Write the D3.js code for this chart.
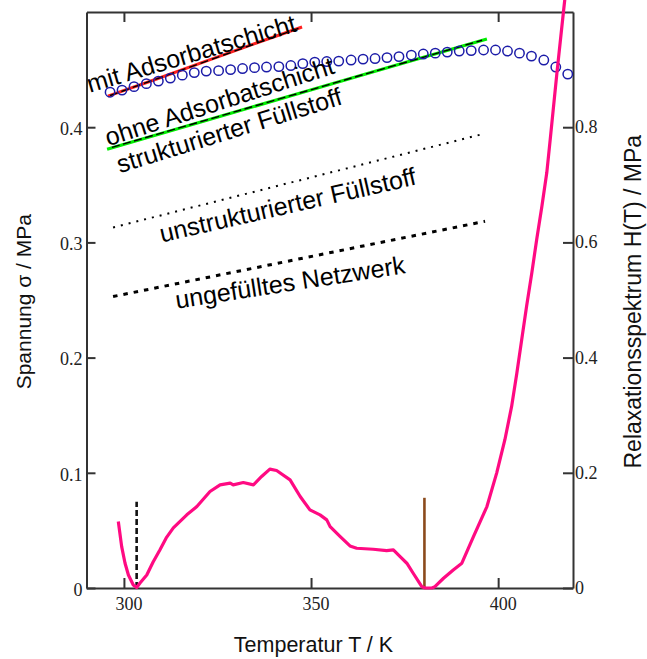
<!DOCTYPE html>
<html>
<head>
<meta charset="utf-8">
<script src="https://cdn.jsdelivr.net/npm/d3@7"></script>
<style>
html,body{margin:0;padding:0;background:#fff;}
svg{display:block;}
</style>
</head>
<body>
<svg id="chart" width="647" height="659"></svg>
<script>
// ---------- data ----------
const xTicks = [300, 350, 400];
const leftTicks = [0, 0.1, 0.2, 0.3, 0.4];
const rightTicks = [0, 0.2, 0.4, 0.6, 0.8];

// open circles (Spannung, left axis)
const circleT = [296.3, 299.5, 302.7, 306.0, 309.2, 312.4, 315.6, 318.8, 322.0, 325.3,
  328.5, 331.7, 334.9, 338.1, 341.4, 344.6, 347.8, 351.0, 354.2, 357.4,
  360.7, 363.9, 367.1, 370.3, 373.5, 376.8, 380.0, 383.2, 386.4, 389.6,
  392.8, 396.1, 399.3, 402.5, 405.7, 408.9, 412.2, 415.4, 418.6];
const circleSigma = [0.4304, 0.4322, 0.4352, 0.4378, 0.4400, 0.4426, 0.4452, 0.4474, 0.4487, 0.4491,
  0.4500, 0.4509, 0.4517, 0.4522, 0.4526, 0.4535, 0.4552, 0.4565, 0.4570, 0.4574,
  0.4583, 0.4591, 0.4596, 0.4604, 0.4613, 0.4626, 0.4635, 0.4643, 0.4652, 0.4661,
  0.4665, 0.4670, 0.4670, 0.4661, 0.4643, 0.4617, 0.4583, 0.4522, 0.4461];

// mit Adsorbatschicht (red) + fit
const redT = [295.7, 308.0, 321.0, 334.0, 347.6];
const redSigma = [0.4270, 0.4410, 0.4562, 0.4715, 0.4870];
const redFitT = [296.3, 347.0];
const redFitSigma = [0.4275, 0.4862];

// ohne Adsorbatschicht (green) + fit
const greenT = [295.5, 321.0, 346.0, 371.5, 397.0];
const greenSigma = [0.3809, 0.4050, 0.4286, 0.4527, 0.4765];
const greenFitT = [296.8, 395.7];
const greenFitSigma = [0.3825, 0.4755];

// unstrukturierter Füllstoff (fine dots)
const unstrT = [297.1, 395.7];
const unstrSigma = [0.3130, 0.3939];

// ungefülltes Netzwerk (thick dashes)
const unfT = [297.1, 396.5];
const unfSigma = [0.2530, 0.3183];

// Relaxationsspektrum H(T) (pink, right axis)
const hT = [298.5, 299.4, 300.3, 301.2, 302.5, 303.4, 304.3, 306.1, 307.8, 309.6,
  311.3, 313.2, 316.8, 319.5, 323.0, 325.7, 328.4, 329.2, 331.9, 334.6,
  336.8, 339.0, 340.8, 344.4, 347.1, 349.7, 352.4, 354.2, 355.1, 357.8,
  360.4, 362.2, 366.6, 370.2, 372.0, 373.8, 375.6, 377.3, 379.6, 380.5,
  382.3, 383.1, 385.4, 388.0, 390.3, 393.4, 397.0, 399.6, 401.8, 403.6,
  405.0, 406.3, 407.6, 409.0, 410.3, 411.7, 413.0, 413.9, 415.7, 417.5, 417.8];
const hValue = [0.1153, 0.0718, 0.0430, 0.0226, 0.0052, 0.0009, 0.0087, 0.0226, 0.0452, 0.0661,
  0.0870, 0.1043, 0.1270, 0.1414, 0.1675, 0.1791, 0.1821, 0.1791, 0.1831, 0.1791,
  0.1936, 0.2064, 0.2040, 0.1878, 0.1588, 0.1357, 0.1270, 0.1183, 0.1066, 0.0892,
  0.0730, 0.0690, 0.0673, 0.0649, 0.0661, 0.0544, 0.0430, 0.0256, 0.0023, 0.0,
  0.0, 0.0023, 0.0169, 0.0313, 0.0430, 0.0892, 0.1414, 0.1995, 0.2574, 0.3153,
  0.3734, 0.4313, 0.4892, 0.5473, 0.6052, 0.6631, 0.7212, 0.7780, 0.8940, 1.0035, 1.0210];

// vertical markers
const markerBlackT = 303.4, markerBlackTop = 0.0748;
const markerBrownT = 380.3, markerBrownTop = 0.0783;

// annotation labels
const labels = ["mit Adsorbatschicht", "ohne Adsorbatschicht", "strukturierter Füllstoff",
  "unstrukturierter Füllstoff", "ungefülltes Netzwerk"];

// ---------- layout ----------
const svg = d3.select("#chart");
const x = d3.scaleLinear().domain([290, 420]).range([86.5, 573]);
const yL = d3.scaleLinear().domain([0, 0.5]).range([588, 12]);
const yR = d3.scaleLinear().domain([0, 1]).range([588, 12]);

const axisColor = "#333";
const tickFont = "'Liberation Serif','Times New Roman',serif";
const sansFont = "'Liberation Sans',Arial,Helvetica,sans-serif";

function styleAxis(g) {
  g.selectAll(".domain").attr("stroke", axisColor).attr("stroke-width", 2);
  g.selectAll(".tick line").attr("stroke", axisColor).attr("stroke-width", 2);
  g.selectAll(".tick text").attr("font-family", tickFont).attr("font-size", 18).attr("fill", "#222");
}
const fmt = d => d === 0 ? "0" : d3.format(".1f")(d);

svg.append("g").attr("transform", `translate(0,${yL(0)})`)
  .call(d3.axisBottom(x).tickValues(xTicks).tickSize(-10).tickSizeOuter(0).tickPadding(9).tickFormat(d3.format("d")))
  .call(styleAxis)
  .call(g => g.selectAll(".tick text").attr("dx", 4.5));

svg.append("g").attr("transform", `translate(0,${yL(0.5)})`)
  .call(d3.axisTop(x).tickValues(xTicks).tickSize(-10).tickSizeOuter(0).tickFormat(""))
  .call(styleAxis);

svg.append("g").attr("transform", `translate(${x(290)},0)`)
  .call(d3.axisLeft(yL).tickValues(leftTicks).tickSize(-9).tickSizeOuter(0).tickPadding(4).tickFormat(fmt))
  .call(styleAxis)
  .call(g => g.selectAll(".tick text").attr("dy", "0.4em"));

svg.append("g").attr("transform", `translate(${x(420)},0)`)
  .call(d3.axisRight(yR).tickValues(rightTicks).tickSize(-10).tickSizeOuter(0).tickPadding(2).tickFormat(fmt))
  .call(styleAxis)
  .call(g => g.selectAll(".tick text").attr("dy", "0.3em"));

// ---------- series ----------
const lineL = (T, S) => d3.line().x((d, i) => x(T[i])).y((d, i) => yL(S[i]))(T);
const lineR = (T, S) => d3.line().x((d, i) => x(T[i])).y((d, i) => yR(S[i]))(T);

// red + fit
svg.append("path").attr("d", lineL(redT, redSigma)).attr("fill", "none")
  .attr("stroke", "#ff2020").attr("stroke-width", 3);
svg.append("path").attr("d", lineL(redFitT, redFitSigma)).attr("fill", "none")
  .attr("stroke", "#000").attr("stroke-width", 1.4).attr("stroke-dasharray", "8,4");

// green + fit
svg.append("path").attr("d", lineL(greenT, greenSigma)).attr("fill", "none")
  .attr("stroke", "#00ee00").attr("stroke-width", 3.2);
svg.append("path").attr("d", lineL(greenFitT, greenFitSigma)).attr("fill", "none")
  .attr("stroke", "#000").attr("stroke-width", 1.4).attr("stroke-dasharray", "8,3.5");

// fine dotted
svg.append("path").attr("d", lineL(unstrT, unstrSigma)).attr("fill", "none")
  .attr("stroke", "#000").attr("stroke-width", 2).attr("stroke-dasharray", "2,6");

// thick dashed
svg.append("path").attr("d", lineL(unfT, unfSigma)).attr("fill", "none")
  .attr("stroke", "#000").attr("stroke-width", 3).attr("stroke-dasharray", "4.5,6");

// circles
svg.append("g").selectAll("circle").data(circleT).join("circle")
  .attr("cx", (d, i) => x(circleT[i])).attr("cy", (d, i) => yL(circleSigma[i]))
  .attr("r", 4.7).attr("fill", "none").attr("stroke", "#1c1ca8").attr("stroke-width", 1.5);

// vertical markers
svg.append("line").attr("x1", x(markerBlackT)).attr("x2", x(markerBlackT))
  .attr("y1", yL(0)).attr("y2", yL(markerBlackTop))
  .attr("stroke", "#111").attr("stroke-width", 2.6).attr("stroke-dasharray", "6,3");
svg.append("line").attr("x1", x(markerBrownT)).attr("x2", x(markerBrownT))
  .attr("y1", yL(0)).attr("y2", yL(markerBrownTop))
  .attr("stroke", "#8b4a1c").attr("stroke-width", 2.6);

// pink spectrum
svg.append("path").attr("d", lineR(hT, hValue)).attr("fill", "none")
  .attr("stroke", "#ff0a82").attr("stroke-width", 3.2).attr("stroke-linejoin", "round");

// ---------- annotations ----------
const labelLayout = [
  {T: 290.9, s: 0.4300, a: -16.5},
  {T: 295.8, s: 0.3835, a: -17.8},
  {T: 298.9, s: 0.3600, a: -17.2},
  {T: 310.1, s: 0.3000, a: -12.8},
  {T: 314.1, s: 0.2425, a: -8.8}
];
labels.forEach((t, i) => {
  const L = labelLayout[i];
  svg.append("text")
    .attr("transform", `translate(${x(L.T)},${yL(L.s)}) rotate(${L.a})`)
    .attr("font-family", sansFont).attr("font-size", 25).attr("fill", "#000")
    .text(t);
});

// ---------- axis titles ----------
svg.append("text").attr("x", 313.5).attr("y", 651.5).attr("text-anchor", "middle")
  .attr("font-family", sansFont).attr("font-size", 21.5).attr("fill", "#111")
  .text("Temperatur T / K");
svg.append("text").attr("transform", "translate(31,301.7) rotate(-90)").attr("text-anchor", "middle")
  .attr("font-family", sansFont).attr("font-size", 21).attr("fill", "#111")
  .text("Spannung σ / MPa");
svg.append("text").attr("transform", "translate(641,301.7) rotate(-90)").attr("text-anchor", "middle")
  .attr("font-family", sansFont).attr("font-size", 23).attr("fill", "#111")
  .text("Relaxationsspektrum H(T) / MPa");
</script>
</body>
</html>
